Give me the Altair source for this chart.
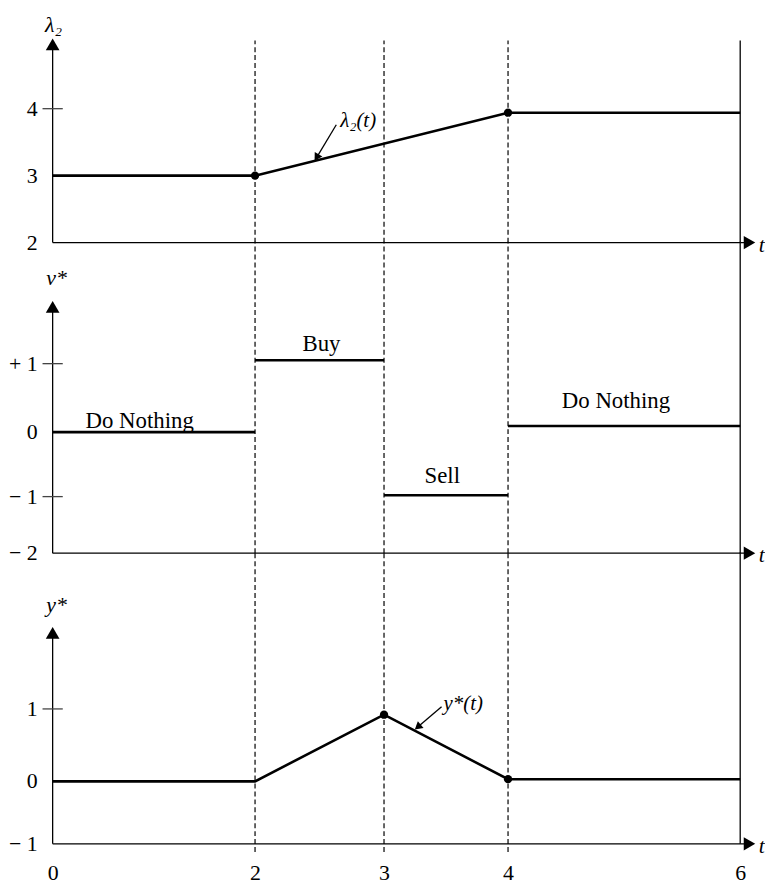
import altair as alt
import pandas as pd

FONT = "Liberation Serif"
INK = "#000000"

# ---------------- time axis (schematic, piecewise spacing) ----------------
T_TICKS = [0, 2, 3, 4, 6]
T_PIX = [0, 204, 334, 459, 693]
SWITCH_T = [2, 3, 4]
T_END = 6
T_ARROW = 6.08
T_LABEL = 6.16

# ---------------- panel 1 : lambda_2 ----------------
LAM_T = [0, 2, 4, 6]
LAM_V = [3, 3, 3.94, 3.94]
LAM_DOT_T = [2, 4]
LAM_DOT_V = [3, 3.94]
LAM_TICK_V = [4, 3, 2]
LAM_TICK_TXT = ["4", "3", "2"]
LAM_MARK_V = [4]
LAM_NOTE = "λ₂(t)"
LAM_NOTE_T, LAM_NOTE_V = 2.66, 3.81
LAM_ARROW_T = [2.63, 2.477]
LAM_ARROW_V = [3.76, 3.27]
LAM_ARROW_ANGLE = 211

# ---------------- panel 2 : v* ----------------
V_START = [0, 2, 3, 4]
V_END = [2, 3, 4, 6]
V_VAL = [0, 1.05, -0.98, 0.09]
V_LABEL = ["Do Nothing", "Buy", "Sell", "Do Nothing"]
V_LABEL_T = [0.86, 2.515, 3.47, 4.93]
V_LABEL_Y = [0.058, 1.19, -0.785, 0.35]
V_TICK_V = [1, 0, -1, -2]
V_TICK_TXT = ["+ 1", "0", "− 1", "− 2"]
V_MARK_V = [1, -1]

# ---------------- panel 3 : y* ----------------
Y_T = [0, 2, 3, 4, 6]
Y_V = [0, 0, 0.92, 0.03, 0.03]
Y_DOT_T = [3, 4]
Y_DOT_V = [0.92, 0.03]
Y_TICK_V = [1, 0, -1]
Y_TICK_TXT = ["1", "0", "− 1"]
Y_MARK_V = [1]
Y_NOTE = "y*(t)"
Y_NOTE_T, Y_NOTE_V = 3.48, 1.07
Y_ARROW_T = [3.464, 3.272]
Y_ARROW_V = [1.03, 0.75]
Y_ARROW_ANGLE = 230

PANELS = [
    dict(height=233, domain=[2, 4], range=[233, 98], bottom=2, dash_bottom=2,
         top=5.02, arrow=4.96, title="λ₂", title_v=5.25, title_dx=1,
         tick_v=LAM_TICK_V, tick_txt=LAM_TICK_TXT, marks=LAM_MARK_V),
    dict(height=313, domain=[-2, -1, 0, 1], range=[313, 256, 191, 122], bottom=-2,
         dash_bottom=-2, top=2.78, arrow=1.83, title="v*", title_v=2.25, title_dx=4,
         tick_v=V_TICK_V, tick_txt=V_TICK_TXT, marks=V_MARK_V),
    dict(height=293, domain=[-1, 0, 1], range=[293, 230, 157], bottom=-1,
         dash_bottom=-1.13, top=3.16, arrow=2.05, title="y*", title_v=2.44, title_dx=4,
         tick_v=Y_TICK_V, tick_txt=Y_TICK_TXT, marks=Y_MARK_V),
]

W = 700


def build_panel(p, extra, show_axis):
    xsc = alt.Scale(domain=T_TICKS, range=T_PIX, nice=False, zero=False)
    ysc = alt.Scale(domain=p["domain"], range=p["range"], nice=False, zero=False)
    if show_axis:
        xax = alt.Axis(values=T_TICKS, domain=False, ticks=False, grid=False,
                       labelFont=FONT, labelFontSize=22, labelColor=INK,
                       labelPadding=19, labelFlush=False, labelOverlap=False,
                       labelBound=False, title=None)
    else:
        xax = None

    def X(f):
        return alt.X(f, type="quantitative", scale=xsc, axis=xax)

    def Y(f):
        return alt.Y(f, type="quantitative", scale=ysc, axis=None)

    layers = []
    # dashed switching lines
    d = pd.DataFrame({"t": SWITCH_T, "y0": p["dash_bottom"], "y1": p["top"]})
    layers.append(alt.Chart(d).mark_rule(color=INK, strokeWidth=1.2, strokeDash=[5, 3])
                  .encode(x=X("t"), y=Y("y0"), y2="y1"))
    # right solid boundary at t = 6
    d = pd.DataFrame({"t": [T_END], "y0": [p["bottom"]], "y1": [p["top"]]})
    layers.append(alt.Chart(d).mark_rule(color=INK, strokeWidth=1.3)
                  .encode(x=X("t"), y=Y("y0"), y2="y1"))
    # vertical axis line
    d = pd.DataFrame({"t": [0], "y0": [p["bottom"]], "y1": [p["arrow"]]})
    layers.append(alt.Chart(d).mark_rule(color=INK, strokeWidth=1.3)
                  .encode(x=X("t"), y=Y("y0"), y2="y1"))
    # horizontal axis line
    d = pd.DataFrame({"t0": [0], "t1": [T_ARROW], "y": [p["bottom"]]})
    layers.append(alt.Chart(d).mark_rule(color=INK, strokeWidth=1.3)
                  .encode(x=X("t0"), x2="t1", y=Y("y")))
    # arrow heads
    d = pd.DataFrame({"t": [0], "y": [p["arrow"]]})
    layers.append(alt.Chart(d).mark_point(shape="triangle-up", filled=True, size=190,
                                          color=INK, opacity=1)
                  .encode(x=X("t"), y=Y("y")))
    d = pd.DataFrame({"t": [T_ARROW], "y": [p["bottom"]]})
    layers.append(alt.Chart(d).mark_point(shape="triangle-right", filled=True, size=180,
                                          color=INK, opacity=1)
                  .encode(x=X("t"), y=Y("y")))
    # tick marks crossing the axis
    d = pd.DataFrame({"t0": -0.1, "t1": 0.1, "y": p["marks"]})
    layers.append(alt.Chart(d).mark_rule(color="#444444", strokeWidth=1.3)
                  .encode(x=X("t0"), x2="t1", y=Y("y")))
    # tick labels
    d = pd.DataFrame({"t": 0, "y": p["tick_v"], "txt": p["tick_txt"]})
    layers.append(alt.Chart(d).mark_text(font=FONT, fontSize=22, color=INK, align="right",
                                         baseline="middle", dx=-15)
                  .encode(x=X("t"), y=Y("y"), text="txt:N"))
    # axis title
    d = pd.DataFrame({"t": [0], "y": [p["title_v"]], "txt": [p["title"]]})
    layers.append(alt.Chart(d).mark_text(font=FONT, fontSize=22, fontStyle="italic",
                                         color=INK, align="center", baseline="middle",
                                         dx=p["title_dx"])
                  .encode(x=X("t"), y=Y("y"), text="txt:N"))
    # time label
    d = pd.DataFrame({"t": [T_LABEL], "y": [p["bottom"]], "txt": ["t"]})
    layers.append(alt.Chart(d).mark_text(font=FONT, fontSize=22, fontStyle="italic",
                                         color=INK, align="left", baseline="middle", dy=2)
                  .encode(x=X("t"), y=Y("y"), text="txt:N"))

    for make in extra:
        layers.append(make(X, Y))

    return alt.layer(*layers).properties(width=W, height=p["height"])


def note_layers(txt, nt, nv, at, av, angle):
    def text_layer(X, Y):
        d = pd.DataFrame({"t": [nt], "y": [nv], "txt": [txt]})
        return alt.Chart(d).mark_text(font=FONT, fontSize=21, fontStyle="italic", color=INK,
                                      align="left", baseline="middle").encode(
            x=X("t"), y=Y("y"), text="txt:N")

    def shaft_layer(X, Y):
        d = pd.DataFrame({"t0": [at[0]], "t1": [at[1]], "y0": [av[0]], "y1": [av[1]]})
        return alt.Chart(d).mark_rule(color=INK, strokeWidth=1.3).encode(
            x=X("t0"), x2="t1", y=Y("y0"), y2="y1")

    def head_layer(X, Y):
        d = pd.DataFrame({"t": [at[1]], "y": [av[1]]})
        return alt.Chart(d).mark_point(shape="triangle-up", filled=True, size=80, color=INK,
                                       opacity=1, angle=angle).encode(x=X("t"), y=Y("y"))

    return [shaft_layer, head_layer, text_layer]


# ---- panel 1 extras ----
def lam_line(X, Y):
    d = pd.DataFrame({"t": LAM_T, "v": LAM_V})
    return alt.Chart(d).mark_line(color=INK, strokeWidth=2.6).encode(x=X("t"), y=Y("v"))


def lam_dots(X, Y):
    d = pd.DataFrame({"t": LAM_DOT_T, "v": LAM_DOT_V})
    return alt.Chart(d).mark_point(shape="circle", filled=True, size=70, color=INK,
                                   opacity=1).encode(x=X("t"), y=Y("v"))


# ---- panel 2 extras ----
def v_segments(X, Y):
    d = pd.DataFrame({"t0": V_START, "t1": V_END, "v": V_VAL})
    return alt.Chart(d).mark_rule(color=INK, strokeWidth=2.6).encode(
        x=X("t0"), x2="t1", y=Y("v"))


def v_labels(X, Y):
    d = pd.DataFrame({"t": V_LABEL_T, "y": V_LABEL_Y, "txt": V_LABEL})
    return alt.Chart(d).mark_text(font=FONT, fontSize=23, color=INK, align="center",
                                  baseline="alphabetic").encode(
        x=X("t"), y=Y("y"), text="txt:N")


# ---- panel 3 extras ----
def y_line(X, Y):
    d = pd.DataFrame({"t": Y_T, "v": Y_V})
    return alt.Chart(d).mark_line(color=INK, strokeWidth=2.6).encode(x=X("t"), y=Y("v"))


def y_dots(X, Y):
    d = pd.DataFrame({"t": Y_DOT_T, "v": Y_DOT_V})
    return alt.Chart(d).mark_point(shape="circle", filled=True, size=70, color=INK,
                                   opacity=1).encode(x=X("t"), y=Y("v"))


p1 = build_panel(PANELS[0],
                 [lam_line, lam_dots] + note_layers(LAM_NOTE, LAM_NOTE_T, LAM_NOTE_V,
                                                    LAM_ARROW_T, LAM_ARROW_V, LAM_ARROW_ANGLE),
                 False)
p2 = build_panel(PANELS[1], [v_segments, v_labels], False)
p3 = build_panel(PANELS[2],
                 [y_line, y_dots] + note_layers(Y_NOTE, Y_NOTE_T, Y_NOTE_V,
                                                Y_ARROW_T, Y_ARROW_V, Y_ARROW_ANGLE),
                 True)

chart = (
    alt.vconcat(p1, p2, p3, spacing=0, bounds="flush")
    .properties(padding={"left": 1, "top": 0, "right": 0, "bottom": 0}, background="white")
    .configure_view(stroke=None)
)

chart.save("out.html", embed_options={"renderer": "svg", "actions": False})
